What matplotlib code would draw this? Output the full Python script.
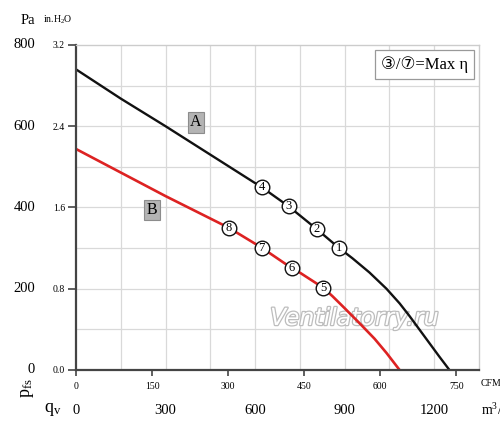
import numpy as np
import matplotlib
matplotlib.use('Agg')
import matplotlib.pyplot as plt
import matplotlib.patheffects as pe
from matplotlib.transforms import blended_transform_factory

# Dados (vazao em m3/h, pressao em Pa) ===============================
q_a = [0, 150, 300, 450, 600, 622, 712, 806, 880, 926, 983, 1040, 1084, 1117, 1150, 1184, 1217, 1251]
p_a = [740, 668, 600, 530, 460, 450, 403, 347, 301, 275, 240, 200, 164, 133, 100, 66, 33, 0]

q_b = [0, 300, 512, 622, 722, 749, 829, 860, 900, 950, 1000, 1040, 1084]
p_b = [544, 428, 350, 301, 251, 240, 202, 181, 152, 115, 77, 42, 0]

# pontos numerados
pts_a_q = [880, 806, 712, 622]
pts_a_p = [301, 347, 403, 450]
pts_a_n = ['1', '2', '3', '4']
pts_b_q = [829, 722, 622, 512]
pts_b_p = [202, 251, 301, 350]
pts_b_n = ['5', '6', '7', '8']

pa_ticks = [0, 200, 400, 600, 800]
inh2o_labels = ['0.0', '0.8', '1.6', '2.4', '3.2']
cfm_ticks = [0, 150, 300, 450, 600, 750]
m3h_labels = [0, 300, 600, 900, 1200]

CFM_TO_M3H = 1.699
serif = ['Liberation Serif', 'DejaVu Serif']
plt.rcParams['font.family'] = serif
plt.rcParams['mathtext.fontset'] = 'custom'
plt.rcParams['mathtext.rm'] = 'Liberation Serif'
plt.rcParams['mathtext.it'] = 'Liberation Serif'

fig = plt.figure(figsize=(5.0, 4.38), dpi=100)
ax = fig.add_axes([0.152, 0.1553, 0.806, 0.742])

ax.set_xlim(0, 1350)
ax.set_ylim(0, 800)

# grade
for x in np.arange(150, 1350, 150):
    ax.axvline(x, color='#d9d9d9', lw=0.9, zorder=0)
for y in np.arange(100, 800, 100):
    ax.axhline(y, color='#d9d9d9', lw=0.9, zorder=0)

ax.plot(q_a, p_a, color='#111111', lw=1.7, zorder=2, solid_joinstyle='round')
ax.plot(q_b, p_b, color='#dd2222', lw=1.9, zorder=2, solid_joinstyle='round')

for qs, ps, ns in [(pts_a_q, pts_a_p, pts_a_n), (pts_b_q, pts_b_p, pts_b_n)]:
    ax.plot(qs, ps, 'o', ms=10.5, mfc='white', mec='#111111', mew=1.0, zorder=3)
    for q, p, n in zip(qs, ps, ns):
        ax.text(q, p, n, ha='center', va='center', fontsize=9, zorder=4)

# rotulos A e B
box = dict(boxstyle='square,pad=0.15', fc='#b4b4b4', ec='#8c8c8c', lw=0.8)
ax.text(401, 610, 'A', ha='center', va='center', fontsize=11.5, bbox=box, zorder=4)
ax.text(254, 394, 'B', ha='center', va='center', fontsize=11.5, bbox=box, zorder=4)

# legenda
ax.text(0.865, 0.94, '③/⑦=Max η', transform=ax.transAxes, ha='center', va='center',
        fontsize=12, family=['Liberation Serif', 'DejaVu Sans'],
        bbox=dict(boxstyle='square,pad=0.35', fc='white', ec='#999999', lw=0.9), zorder=5)

# marca d'agua
ax.text(933, 128, 'Ventilatorry.ru', ha='center', va='center', fontsize=17,
        style='italic', family='DejaVu Sans', color='white', zorder=1,
        path_effects=[pe.withStroke(linewidth=1.8, foreground='#bdbdbd')])

# eixos
for s in ['top', 'right']:
    ax.spines[s].set_color('#cccccc')
    ax.spines[s].set_linewidth(1.0)
for s in ['left', 'bottom']:
    ax.spines[s].set_color('#444444')
    ax.spines[s].set_linewidth(1.6)

ax.set_yticks(pa_ticks)
ax.set_yticklabels(inh2o_labels, fontsize=7)
ax.set_xticks([c * CFM_TO_M3H for c in cfm_ticks])
ax.set_xticklabels([str(c) for c in cfm_ticks], fontsize=7)
ax.tick_params(axis='y', length=6, width=1.2, color='#444444', pad=2)
ax.tick_params(axis='x', length=4.5, width=1.2, color='#444444', pad=4)

# Pa a esquerda
tr_y = blended_transform_factory(fig.transFigure, ax.transData)
for p in pa_ticks:
    ax.text(35 / 500, p, str(p), transform=tr_y, ha='right', va='center', fontsize=10.5)

# m3/h embaixo
tr_x = blended_transform_factory(ax.transData, fig.transFigure)
for m in m3h_labels:
    ax.text(m, 1 - 410 / 438, str(m), transform=tr_x, ha='center', va='center', fontsize=10.5)

fig.text(28 / 500, 1 - 20 / 438, 'Pa', ha='center', va='center', fontsize=10.5)
fig.text(58 / 500, 1 - 20 / 438, r'in.H$_2$O', ha='center', va='center', fontsize=7)
fig.text(28 / 500, 1 - 388 / 438, r'$\mathrm{p_{fs}}$', ha='center', va='center',
         fontsize=13, rotation=90)
fig.text(53 / 500, 1 - 410 / 438, r'$\mathrm{q_v}$', ha='center', va='center', fontsize=13)
# cortados na borda, como no original
fig.text(481 / 500, 1 - 384 / 438, 'CFM', ha='left', va='center', fontsize=7)
fig.text(481 / 500, 1 - 410 / 438, r'm$^3$/h', ha='left', va='center', fontsize=10)

fig.savefig('out.png', dpi=100)
